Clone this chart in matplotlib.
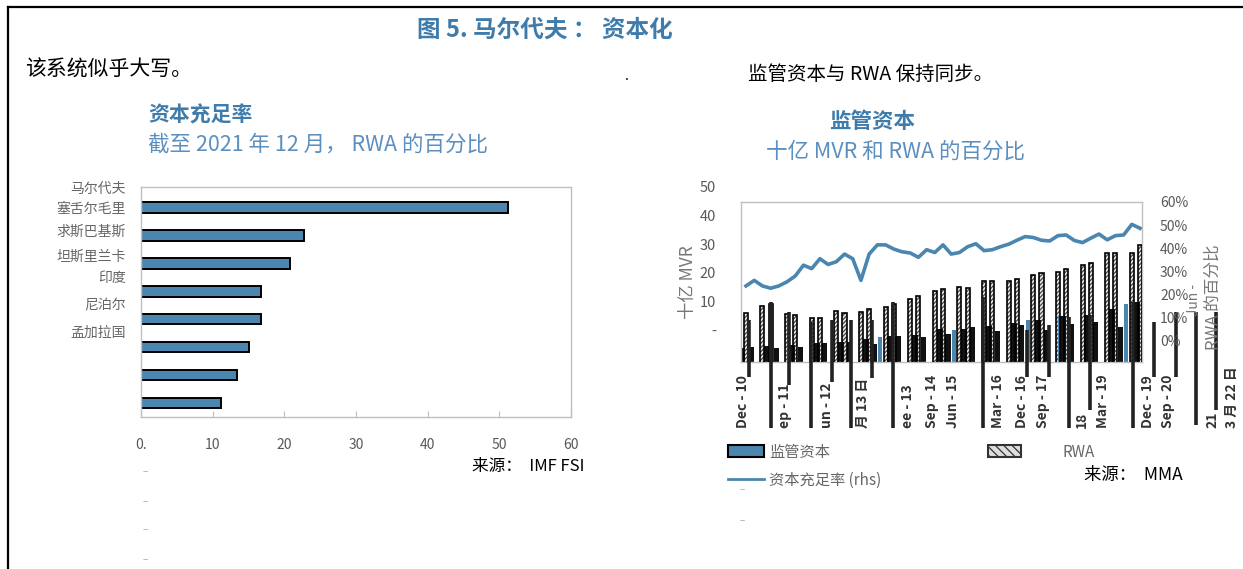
import matplotlib
matplotlib.use('Agg')
import matplotlib.pyplot as plt
from matplotlib.patches import Patch
from matplotlib.lines import Line2D
from matplotlib.ticker import FuncFormatter

plt.rcParams['font.family'] = ['Noto Sans CJK SC', 'DejaVu Sans']
plt.rcParams['hatch.linewidth'] = 0.9

# ---- 左图：资本充足率（2021年12月，占RWA百分比）
bar_names = ['马尔代夫', '塞舌尔毛里', '求斯巴基斯', '坦斯里兰卡', '印度', '尼泊尔', '孟加拉国']
car_2021 = [51.2, 22.8, 20.8, 16.8, 16.7, 15.0, 13.4, 11.2]
name_pos = [-0.73, 0.0, 0.83, 1.70, 2.47, 3.44, 4.42]
x_ticks_left = [0, 10, 20, 30, 40, 50, 60]
x_ticklabels_left = ['0.', '10', '20', '30', '40', '50', '60']

# ---- 右图：监管资本、RWA（十亿 MVR）和资本充足率
rwa_slot = [0, 2, 3, 5, 6, 8, 9, 11, 12, 14, 15, 17, 18, 20, 21, 23, 24,
            26, 27, 29, 30, 32, 33, 35, 36, 38, 39, 41, 42, 44, 45, 47, 48]
rwa = [17.8, 20.3, 21.0, 17.5, 17.1, 16.1, 16.1, 18.5, 17.8, 18.2, 19.2,
       19.9, 21.0, 22.7, 23.8, 25.5, 26.2, 26.9, 26.6, 29.0, 29.0, 29.0,
       29.7, 31.1, 31.8, 32.2, 33.2, 34.6, 35.3, 38.8, 38.8, 38.8, 41.6]

cap_slot = [2.6, 5.6, 8.6, 11.6, 14.6, 17.6, 20.6, 23.6, 26.6, 29.6, 32.6,
            35.6, 38.6, 41.6, 44.6, 47.6]
cap = [5.6, 5.9, 6.6, 7.0, 8.0, 9.1, 9.4, 11.5, 11.5, 12.6, 13.6, 14.7,
       16.1, 16.4, 18.5, 21.0]
cap2_slot = [-0.5, 0.6, 3.7, 6.6, 9.6, 12.6, 15.6, 18.5, 21.6, 24.6, 27.6,
             30.6, 33.6, 36.6, 39.6, 42.6, 45.6]
cap2 = [4.9, 5.2, 5.0, 5.2, 6.6, 7.0, 6.3, 9.1, 8.7, 9.8, 12.2, 10.8, 12.9,
        11.2, 13.3, 14.0, 12.2]
cap_blue_slot = [11.3, 16.3, 25.3, 34.3, 38.3, 46.3]
cap_blue = [7.0, 8.7, 11.2, 14.7, 16.1, 20.3]

car_q = [23.6, 26.0, 23.6, 22.6, 23.6, 25.4, 27.9, 32.6, 31.1, 35.4, 32.9,
         34.1, 37.4, 35.4, 26.0, 37.4, 41.4, 41.4, 39.6, 38.4, 37.9, 36.0,
         39.3, 38.1, 41.4, 37.4, 38.1, 40.6, 41.9, 38.9, 39.3, 40.6, 41.7,
         43.4, 45.0, 44.6, 43.4, 43.1, 45.4, 45.7, 43.3, 42.4, 44.3, 46.1,
         43.6, 45.4, 45.7, 50.3, 48.6]

# 竖线（位置, 上端, 下端）
rule_slot = [3.05, 7.9, 12.8, 17.9, 28.9, 39.3, 47.1, 41.9, 57.2, 54.8,
             0.4, 5.2, 10.5, 15.3, 34.2, 36.9, 49.7, 52.4]
rule_top = [21.0, 14.0, 14.7, 21.0, 22.7, 15.7, 21.0, 16.4, 17.5, 17.5,
            14.7, 17.5, 14.7, 14.7, 11.2, 12.9, 14.0, 17.5]
rule_bot = [-23.1, -23.1, -23.1, -23.1, -23.1, -23.1, -23.1, -16.8, -16.8,
            -22.0, -5.2, -8.0, -7.0, -5.6, -5.2, -5.2, -5.2, -5.2]

date_labels = ['Dec - 10', 'ep - 11', 'un - 12', '月 13 日', 'ee - 13', 'Sep - 14',
               'Jun - 15', 'Mar - 16', 'Dec - 16', 'Sep - 17', '18', 'Mar - 19',
               'Dec - 19', 'Sep - 20', '21', '3 月 22 日']
date_pos = [-0.4, 4.75, 9.9, 14.25, 19.7, 22.65, 25.2, 30.7, 33.6, 36.2,
            40.9, 43.5, 49.0, 51.4, 56.8, 59.2]
mvr_ticks = [0, 10, 20, 30, 40, 50]
mvr_ticklabels = ['-', '10', '20', '30', '40', '50']
pct_ticks = [0, 10, 20, 30, 40, 50, 60]

BLUE = '#4a86b0'
TITLE = '#3f7cab'
SUB = '#5b8fbf'
GREY = '#595959'

W, H = 1243, 569


def fx(x):
    return x / W


def fy(y):
    return 1 - y / H


fig = plt.figure(figsize=(W / 100, H / 100), dpi=100)

# 外框
fig.add_artist(Line2D([fx(8), 1], [fy(7), fy(7)], color='black', lw=1.6))
fig.add_artist(Line2D([fx(8), fx(8)], [0, fy(7)], color='black', lw=1.6))

fig.text(fx(545), fy(30), '图 5. 马尔代夫 ： 资本化', ha='center', va='center',
         fontsize=17, fontweight='bold', color=TITLE)
fig.text(fx(25), fy(70), '该系统似乎大写。', ha='left', va='center',
         fontsize=15, style='italic', color='black')
fig.text(fx(627), fy(76), '.', ha='center', va='center', fontsize=10)
fig.text(fx(748), fy(75), '监管资本与 RWA 保持同步。', ha='left', va='center',
         fontsize=14, style='italic', color='black')

# ---------------- 左图
fig.text(fx(148), fy(115), '资本充足率', ha='left', va='center',
         fontsize=15, fontweight='bold', color=TITLE)
fig.text(fx(148), fy(145), '截至 2021 年 12 月， RWA 的百分比', ha='left',
         va='center', fontsize=15.5, color=SUB)

ax1 = fig.add_axes([fx(141), fy(417), fx(571) - fx(141), (417 - 187) / H])
ax1.barh(range(len(car_2021)), car_2021, height=0.38, color=BLUE,
         edgecolor='black', linewidth=1.4)
ax1.set_xlim(0, 60)
ax1.set_ylim(7.5, -0.5)
ax1.set_xticks(x_ticks_left)
ax1.set_xticklabels(x_ticklabels_left)
ax1.set_yticks(name_pos)
ax1.set_yticklabels(bar_names)
ax1.tick_params(axis='x', direction='in', length=4, color='#bfbfbf',
                pad=15, labelsize=10, labelcolor=GREY)
ax1.tick_params(axis='y', length=0, pad=11, labelsize=10, labelcolor='#666666')
for sp in ax1.spines.values():
    sp.set_color('#bfbfbf')
    sp.set_linewidth(1)

fig.text(fx(585), fy(467), '来源：  IMF FSI', ha='right', va='center',
         fontsize=12, color='black')
for yy in [472, 502, 530, 560]:
    fig.text(fx(145), fy(yy), '–', ha='center', va='center', fontsize=7,
             color='#aaaaaa')

# ---------------- 右图
fig.text(fx(872), fy(122), '监管资本', ha='center', va='center',
         fontsize=15.5, fontweight='bold', color=TITLE)
fig.text(fx(896), fy(152), '十亿 MVR 和 RWA 的百分比', ha='center',
         va='center', fontsize=15.5, color=SUB)

box = [fx(741), fy(362), fx(1142) - fx(741), (362 - 202) / H]

# 左侧刻度（单独的坐标轴，只显示刻度标签）
axl = fig.add_axes([fx(741), fy(330), fx(1142) - fx(741), (330 - 187) / H],
                   zorder=0)
axl.set_ylim(0, 50)
axl.set_yticks(mvr_ticks)
axl.set_yticklabels(mvr_ticklabels)
axl.set_xticks([])
axl.patch.set_visible(False)
for sp in axl.spines.values():
    sp.set_visible(False)
axl.tick_params(axis='y', length=0, pad=18, labelsize=10.5, labelcolor=GREY)

ax2 = fig.add_axes(box, zorder=1)
ax2.patch.set_visible(False)
ax2.set_xlim(-0.61, 48.24)
ax2.set_ylim(0, 56)
ax2.set_xticks([])
ax2.set_yticks([])
for sp in ax2.spines.values():
    sp.set_color('#bfbfbf')
    sp.set_linewidth(1)

# RWA 柱：灰色斜纹 + 黑色外框
ax2.bar(rwa_slot, rwa, width=0.5, bottom=-0.6, color='#e6e6e6', edgecolor='#444444',
        hatch='////////', linewidth=0, zorder=2)
ax2.bar(rwa_slot, rwa, width=0.5, bottom=-0.6, facecolor='none',
        edgecolor='black', linewidth=1.2, zorder=3)
# 监管资本柱
ax2.bar(cap_blue_slot, cap_blue, width=0.5, color=BLUE, linewidth=0, zorder=2)
ax2.bar(cap2_slot, cap2, width=0.65, color='#111111', linewidth=0, zorder=2)
ax2.bar(cap_slot, cap, width=0.75, color='#111111', linewidth=0, zorder=2)

rules = ax2.vlines(rule_slot, rule_bot, rule_top, colors='#222222',
                   linewidth=2.6, zorder=4)
rules.set_clip_on(False)

for pos, lab in zip(date_pos, date_labels):
    ax2.text(pos, -23.1, lab, rotation=90, ha='center', va='bottom',
             fontsize=10, fontweight='bold', color='#333333', clip_on=False)

# 资本充足率（右轴）
ax3 = ax2.twinx()
ax3.set_ylim(-9.4, 60)
ax3.plot(range(len(car_q)), car_q, color=BLUE, linewidth=2.6, zorder=5)
ax3.set_yticks(pct_ticks)
ax3.yaxis.set_major_formatter(FuncFormatter(lambda v, p: '%d%%' % v))
ax3.tick_params(axis='y', length=0, pad=13, labelsize=10, labelcolor=GREY)
for sp in ax3.spines.values():
    sp.set_visible(False)

fig.text(fx(688), fy(282), '十亿 MVR', rotation=90, ha='center', va='center',
         fontsize=12.5, color='#777777')
fig.text(fx(1213), fy(297), 'RWA 的百分比', rotation=90, ha='center',
         va='center', fontsize=12, color='#777777')
fig.text(fx(1194), fy(300), 'Jun -', rotation=90, ha='center', va='center',
         fontsize=10, color='#777777')

# 图例
h_cap = Patch(facecolor=BLUE, edgecolor='black', linewidth=1.5)
h_line = Line2D([], [], color=BLUE, linewidth=2)
h_rwa = Patch(facecolor='#dddddd', edgecolor='#333333', hatch='\\\\\\\\',
              linewidth=1.5)
fig.legend([h_cap, h_line], ['监管资本', '资本充足率 (rhs)'], loc='upper left',
           bbox_to_anchor=(fx(720), fy(436)), frameon=False, fontsize=11,
           handlelength=2.4, handleheight=0.8, handletextpad=0.3,
           labelspacing=0.7, labelcolor='#666666', borderpad=0)
fig.legend([h_rwa], ['RWA'], loc='upper left',
           bbox_to_anchor=(fx(980), fy(436)), frameon=False, fontsize=11,
           handlelength=2.2, handleheight=0.8, handletextpad=2.7,
           labelcolor='#666666', borderpad=0)
for yy in [490, 521]:
    fig.text(fx(742), fy(yy), '–', ha='center', va='center', fontsize=7,
             color='#aaaaaa')

fig.text(fx(1183), fy(475), '来源：  MMA', ha='right', va='center',
         fontsize=12.5, color='black')

fig.savefig('out.png', dpi=100)
